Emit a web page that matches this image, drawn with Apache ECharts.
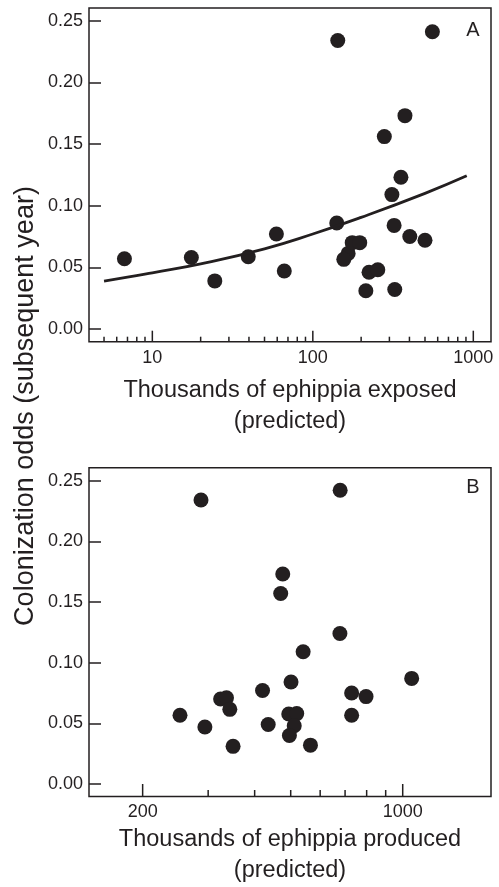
<!DOCTYPE html>
<html>
<head>
<meta charset="utf-8">
<script src="https://cdn.jsdelivr.net/npm/echarts@6/dist/echarts.min.js"></script>
<style>
html,body{margin:0;padding:0;background:#fff;}
#c{width:499px;height:887px;}
</style>
</head>
<body>
<div id="c"></div>
<script>
// ---- Data ----
// Panel A: thousands of ephippia exposed (predicted) vs colonization odds
const aX = [6.7, 17.5, 24.5, 39.6, 59.3, 66.4, 141, 143, 166, 156, 176, 196, 224, 254, 214, 324, 321, 402, 500, 311, 354, 279, 375, 556];
const aY = [0.057, 0.058, 0.039, 0.0586, 0.077, 0.047, 0.086, 0.234, 0.0613, 0.0565, 0.070, 0.070, 0.046, 0.048, 0.031, 0.032, 0.084, 0.075, 0.072, 0.109, 0.123, 0.156, 0.173, 0.241];
// Fitted curve in panel A (read points)
const fitX = [5, 7, 10, 20, 50, 100, 200, 500, 910];
const fitY = [0.0389, 0.0420, 0.0456, 0.0528, 0.0650, 0.0770, 0.0905, 0.1100, 0.1242];
// Panel B: thousands of ephippia produced (predicted) vs colonization odds
const bX = [287, 679, 476, 470, 678, 540, 1057, 501, 420, 729, 797, 324, 336, 343, 252, 294, 350, 435, 494, 519, 511, 496, 565, 729];
const bY = [0.234, 0.242, 0.173, 0.157, 0.124, 0.109, 0.087, 0.084, 0.077, 0.075, 0.072, 0.070, 0.071, 0.0615, 0.0566, 0.047, 0.031, 0.049, 0.0577, 0.058, 0.048, 0.040, 0.032, 0.0566];

// Tick values
const yTicks = [0, 0.05, 0.10, 0.15, 0.20, 0.25];
const aMajor = [10, 100, 1000];
const aMinor = [5, 6, 7, 8, 9, 20, 30, 40, 50, 60, 70, 80, 90, 200, 300, 400, 500, 600, 700, 800, 900];
const bMajor = [200, 1000];
const bMinor = [300, 400, 500, 600, 700, 800, 900];

// Text
const yTitle = 'Colonization odds (subsequent year)';
const aTitle = 'Thousands of ephippia exposed\n(predicted)';
const bTitle = 'Thousands of ephippia produced\n(predicted)';

// ---- Style / layout ----
const INK = '#231f20';
const FONT = '"Liberation Sans", Arial, Helvetica, sans-serif';
const TICKFS = 18;
const A = {xmin: 4.03, xmax: 1289, ymin: -0.0103, ymax: 0.2603};
const B = {xmin: 143.5, xmax: 1727, ymin: -0.0103, ymax: 0.2606};

function tickSeries(idx, vals, len, ymin) {
  return {
    type: 'custom', xAxisIndex: idx, yAxisIndex: idx, silent: true, clip: false,
    data: vals.map(v => [v, ymin]),
    encode: {x: 0, y: 1},
    renderItem: function (params, api) {
      const p = api.coord([api.value(0), ymin]);
      return {type: 'line', shape: {x1: p[0], y1: p[1], x2: p[0], y2: p[1] - len},
              style: {stroke: INK, lineWidth: 1.5}};
    }
  };
}
function labelSeries(idx, vals, ymin) {
  return {
    type: 'custom', xAxisIndex: idx, yAxisIndex: idx, silent: true, clip: false,
    data: vals.map(v => [v, ymin]),
    encode: {x: 0, y: 1},
    renderItem: function (params, api) {
      const v = api.value(0);
      const p = api.coord([v, ymin]);
      return {type: 'text', x: p[0], y: p[1] + 16,
              style: {text: String(v), fill: INK, font: TICKFS + 'px ' + FONT, align: 'center', verticalAlign: 'middle'}};
    }
  };
}
function yAxisOf(gi, r) {
  return {
    type: 'value', gridIndex: gi, min: r.ymin, max: r.ymax,
    axisLine: {show: false}, splitLine: {show: false},
    axisTick: {show: true, inside: true, length: 12, customValues: yTicks, lineStyle: {color: INK, width: 1.5}},
    axisLabel: {show: true, customValues: yTicks, margin: 6, color: INK, fontSize: TICKFS, fontFamily: FONT,
                formatter: v => v.toFixed(2)}
  };
}
function xAxisOf(gi, r, name, gap) {
  return {
    type: 'log', logBase: 10, gridIndex: gi, min: r.xmin, max: r.xmax,
    axisLine: {show: false}, axisTick: {show: false}, axisLabel: {show: false}, splitLine: {show: false},
    minorTick: {show: false}, minorSplitLine: {show: false},
    name: name, nameLocation: 'middle', nameGap: gap,
    nameTextStyle: {color: INK, fontSize: 23.5, fontFamily: FONT, lineHeight: 31, align: 'center', verticalAlign: 'top'}
  };
}

const chart = echarts.init(document.getElementById('c'), null, {renderer: 'canvas'});
chart.setOption({
  animation: false,
  backgroundColor: '#fff',
  grid: [
    {left: 89, top: 8, width: 402, height: 333.7, show: true, borderColor: INK, borderWidth: 1.5, backgroundColor: 'transparent'},
    {left: 89, top: 467.7, width: 402, height: 333.3, show: true, borderColor: INK, borderWidth: 1.5, backgroundColor: 'transparent'}
  ],
  xAxis: [xAxisOf(0, A, aTitle, 33), xAxisOf(1, B, bTitle, 27.5)],
  yAxis: [yAxisOf(0, A), yAxisOf(1, B)],
  series: [
    tickSeries(0, aMinor, 5, A.ymin),
    tickSeries(0, aMajor, 11, A.ymin),
    labelSeries(0, aMajor, A.ymin),
    tickSeries(1, bMinor, 6.5, B.ymin),
    tickSeries(1, bMajor, 12.5, B.ymin),
    labelSeries(1, bMajor, B.ymin),
    {
      type: 'line', xAxisIndex: 0, yAxisIndex: 0, silent: true,
      data: fitX.map((x, i) => [x, fitY[i]]),
      smooth: 0.5, showSymbol: false, symbol: 'none',
      lineStyle: {color: INK, width: 2.8}
    },
    {
      type: 'scatter', xAxisIndex: 0, yAxisIndex: 0, silent: true,
      data: aX.map((x, i) => [x, aY[i]]),
      symbol: 'circle', symbolSize: 15, itemStyle: {color: INK, opacity: 1}
    },
    {
      type: 'scatter', xAxisIndex: 1, yAxisIndex: 1, silent: true,
      data: bX.map((x, i) => [x, bY[i]]),
      symbol: 'circle', symbolSize: 15, itemStyle: {color: INK, opacity: 1}
    }
  ],
  graphic: [
    {type: 'text', x: 26, y: 406, rotation: Math.PI / 2, silent: true,
     style: {text: yTitle, fill: INK, font: '27px ' + FONT, align: 'center', verticalAlign: 'middle'}},
    {type: 'text', x: 473, y: 30, silent: true,
     style: {text: 'A', fill: INK, font: '20px ' + FONT, align: 'center', verticalAlign: 'middle'}},
    {type: 'text', x: 473, y: 487, silent: true,
     style: {text: 'B', fill: INK, font: '20px ' + FONT, align: 'center', verticalAlign: 'middle'}}
  ]
});
</script>
</body>
</html>
